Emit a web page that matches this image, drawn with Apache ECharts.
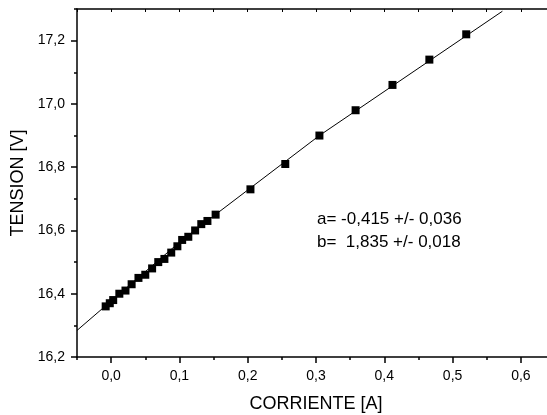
<!DOCTYPE html>
<html>
<head>
<meta charset="utf-8">
<script src="https://cdn.jsdelivr.net/npm/echarts@6/dist/echarts.min.js"></script>
<style>
  html, body { margin: 0; padding: 0; background: #fff; }
  #box { width: 547px; height: 415px; }
</style>
</head>
<body>
<div id="box"></div>
<script>
// 数据点
var corriente = [-0.008, -0.002, 0.003, 0.012, 0.021, 0.030, 0.040, 0.050, 0.060, 0.069,
                 0.078, 0.088, 0.097, 0.104, 0.113, 0.123, 0.132, 0.141, 0.153,
                 0.204, 0.255, 0.305, 0.358, 0.412, 0.466, 0.520];
var tension = [16.36, 16.37, 16.38, 16.40, 16.41, 16.43, 16.45, 16.46, 16.48, 16.50,
               16.51, 16.53, 16.55, 16.57, 16.58, 16.60, 16.62, 16.63, 16.65,
               16.73, 16.81, 16.90, 16.98, 17.06, 17.14, 17.22];
// 拟合直线
var fitX = [-0.05, 0.104, 0.305, 0.573];
var fitY = [16.284, 16.57, 16.90, 17.293];
// 刻度
var xMajor = [0, 0.1, 0.2, 0.3, 0.4, 0.5, 0.6];
var xMinor = [-0.05, 0.05, 0.15, 0.25, 0.35, 0.45, 0.55, 0.65];
var xTop = [-0.05, 0, 0.05, 0.1, 0.15, 0.2, 0.25, 0.3, 0.35, 0.4, 0.45, 0.5, 0.55, 0.6, 0.65];
var yMajor = [16.2, 16.4, 16.6, 16.8, 17.0, 17.2];
var yMinor = [16.3, 16.5, 16.7, 16.9, 17.1, 17.3];
var fitText = ['a= -0,415 +/- 0,036', 'b=  1,835 +/- 0,018'];

function comma(v) {
    return v.toFixed(1).replace('.', ',');
}

var points = corriente.map(function (x, i) { return [x, tension[i]]; });
var fitLine = fitX.map(function (x, i) { return [x, fitY[i]]; });

var black = '#000';
var myChart = echarts.init(document.getElementById('box'));
var option = {
    animation: false,
    textStyle: { fontFamily: 'Liberation Sans, Arial, sans-serif', color: black },
    grid: {
        left: 77,
        top: 9,
        width: 478,
        height: 348,
        containLabel: false,
        outerBoundsMode: 'none'
    },
    xAxis: [{
        type: 'value',
        min: -0.05,
        max: 0.65,
        position: 'bottom',
        name: 'CORRIENTE [A]',
        nameLocation: 'middle',
        nameGap: 38,
        nameTextStyle: { fontSize: 18, color: black },
        axisLine: { onZero: false, lineStyle: { color: black, width: 1.5 } },
        axisTick: { customValues: xMajor, length: 6, lineStyle: { color: black, width: 1.5 } },
        axisLabel: { customValues: xMajor, formatter: comma, fontSize: 14, color: black, margin: 12 },
        splitLine: { show: false }
    }, {
        type: 'value',
        min: -0.05,
        max: 0.65,
        position: 'bottom',
        axisLine: { show: false, onZero: false },
        axisTick: { customValues: xMinor, length: 3, lineStyle: { color: black, width: 1.5 } },
        axisLabel: { show: false },
        splitLine: { show: false }
    }, {
        type: 'value',
        min: -0.05,
        max: 0.65,
        position: 'top',
        axisLine: { onZero: false, lineStyle: { color: black, width: 1.5 } },
        axisTick: { inside: true, customValues: xTop, length: 3, lineStyle: { color: black, width: 1 } },
        axisLabel: { show: false },
        splitLine: { show: false }
    }],
    yAxis: [{
        type: 'value',
        min: 16.2,
        max: 17.3,
        position: 'left',
        name: 'TENSION [V]',
        nameLocation: 'middle',
        nameRotate: 90,
        nameGap: 46,
        nameTextStyle: { fontSize: 18, color: black },
        axisLine: { onZero: false, lineStyle: { color: black, width: 1.5 } },
        axisTick: { customValues: yMajor, length: 6, lineStyle: { color: black, width: 1.5 } },
        axisLabel: { customValues: yMajor, formatter: comma, fontSize: 14, color: black, margin: 12 },
        splitLine: { show: false }
    }, {
        type: 'value',
        min: 16.2,
        max: 17.3,
        position: 'left',
        axisLine: { show: false, onZero: false },
        axisTick: { customValues: yMinor, length: 3, lineStyle: { color: black, width: 1.5 } },
        axisLabel: { show: false },
        splitLine: { show: false }
    }],
    graphic: [{
        type: 'text',
        left: 317,
        top: 211,
        style: { text: fitText[0], fontSize: 17, fontFamily: 'Liberation Sans, Arial, sans-serif', fill: black }
    }, {
        type: 'text',
        left: 317,
        top: 234,
        style: { text: fitText[1], fontSize: 17, fontFamily: 'Liberation Sans, Arial, sans-serif', fill: black }
    }],
    series: [{
        name: 'ajuste',
        type: 'line',
        data: fitLine,
        showSymbol: false,
        symbol: 'none',
        lineStyle: { color: black, width: 1 },
        z: 1
    }, {
        name: 'datos',
        type: 'scatter',
        data: points,
        symbol: 'rect',
        symbolSize: 8,
        itemStyle: { color: black, opacity: 1 },
        z: 2
    }]
};

myChart.setOption(option);
</script>
</body>
</html>
